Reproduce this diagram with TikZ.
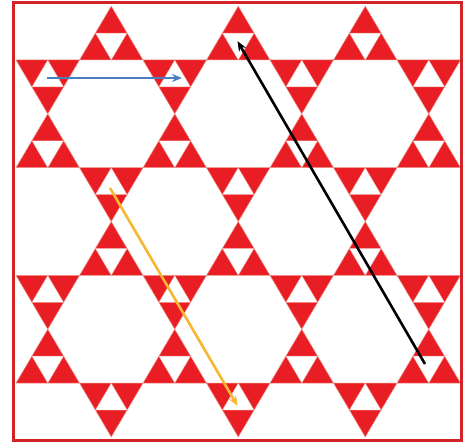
\documentclass[tikz,border=0pt]{standalone}
\usetikzlibrary{arrows.meta}
\definecolor{kagred}{RGB}{232,30,36}
\definecolor{kagframe}{RGB}{210,36,40}
\definecolor{kagedge}{RGB}{240,150,140}
\definecolor{kagblue}{RGB}{74,126,192}
\definecolor{kagorange}{RGB}{247,183,49}
\tikzset{
  redtri/.style={fill=kagred,draw=kagedge,line width=0.5pt,line join=miter},
  holetri/.style={fill=white,draw=kagedge,line width=0.4pt},
  hop/.style={-{Stealth[length=10pt,width=8pt]},line width=2.6pt,shorten >=-1pt}
}
% #1 left corner x, #2 base line y, #3 = 1 up, -1 down
\newcommand{\sierp}[3]{%
  \draw[redtri] (#1,#2) -- ++(63.5,0) -- ({#1+31.75},{#2-(#3)*53.85}) -- cycle;
  \draw[holetri] ({#1+15.875},{#2-(#3)*26.925}) -- ++(31.75,0) -- ({#1+31.75},#2) -- cycle;
}

\begin{document}
\begin{tikzpicture}[x=1pt,y=-1pt]
\useasboundingbox (0,0) rectangle (465,443);
\fill[white] (0,0) rectangle (465,443);
% kagome of small triangles
\foreach \i in {0,...,3} {
  \pgfmathsetmacro\yy{60+107.7*\i}
  \foreach \k in {0,...,6} {
    \pgfmathsetmacro\xx{16+63.5*\k}
    \pgfmathtruncatemacro\flip{mod(\i+\k,2)}
    \ifnum\flip=1 \sierp{\xx}{\yy}{1}\else\sierp{\xx}{\yy}{-1}\fi
  }
}
\draw[kagframe,line width=2.2pt] (13.5,2.5) rectangle (461.5,440.5);
% hops
\coordinate (b1) at (47,78);
\coordinate (b2) at (181,78);
\coordinate (k1) at (425,364);
\coordinate (k2) at (238,42);
\coordinate (o1) at (110,188);
\coordinate (o2) at (237,405);
\draw[hop,kagblue] (b1) -- (b2);
\draw[hop,black] (k1) -- (k2);
\draw[hop,kagorange] (o1) -- (o2);
\end{tikzpicture}
\end{document}
